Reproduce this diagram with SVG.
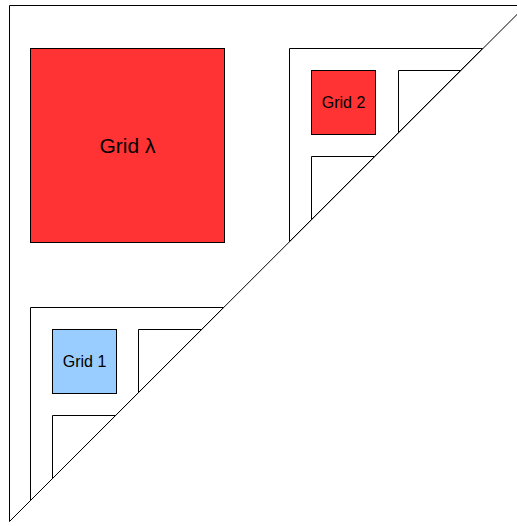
<svg xmlns="http://www.w3.org/2000/svg" width="517" height="526" viewBox="0 0 517 526">
  <style>
    .tri { fill: #ffffff; stroke: #000000; stroke-width: 1; }
    .red { fill: #ff3333; stroke: #000000; stroke-width: 1; }
    .blue { fill: #99ccff; stroke: #000000; stroke-width: 1; }
    .lbl { font-family: "Liberation Sans", Arial, sans-serif; fill: #000000; text-anchor: middle; }
    .big { font-size: 21px; }
    .small { font-size: 16px; }
  </style>
  <rect width="517" height="526" fill="#ffffff"/>

  <!-- outer triangular region; hypotenuse on the line x + y = 531 -->
  <g id="outer">
    <polygon class="tri" points="9.5,5.5 526,5.5 9.5,521.5"/>
  </g>

  <g id="grid-lambda">
    <rect class="red" x="30.5" y="48.5" width="194" height="194"/>
    <text class="lbl big" x="127.5" y="153">Grid λ</text>
  </g>

  <!-- upper-right subdivided triangle -->
  <g id="sub-upper">
    <polygon class="tri" points="289.5,48.5 482.5,48.5 289.5,241.5"/>
  </g>
  <g id="grid-2">
    <rect class="red" x="311.5" y="70.5" width="64" height="64"/>
    <text class="lbl small" x="343.5" y="108">Grid 2</text>
  </g>
  <g id="sub-upper-right">
    <polygon class="tri" points="398.5,70.5 460.5,70.5 398.5,132.5"/>
  </g>
  <g id="sub-upper-lower">
    <polygon class="tri" points="311.5,156.5 374.5,156.5 311.5,219.5"/>
  </g>

  <!-- lower-left subdivided triangle -->
  <g id="sub-lower">
    <polygon class="tri" points="30.5,307.5 223.5,307.5 30.5,500.5"/>
  </g>
  <g id="grid-1">
    <rect class="blue" x="52.5" y="329.5" width="64" height="64"/>
    <text class="lbl small" x="84.5" y="367">Grid 1</text>
  </g>
  <g id="sub-lower-right">
    <polygon class="tri" points="138.5,329.5 201.5,329.5 138.5,392.5"/>
  </g>
  <g id="sub-lower-lower">
    <polygon class="tri" points="52.5,415.5 115.5,415.5 52.5,478.5"/>
  </g>

  <g id="connectors"></g>
</svg>
